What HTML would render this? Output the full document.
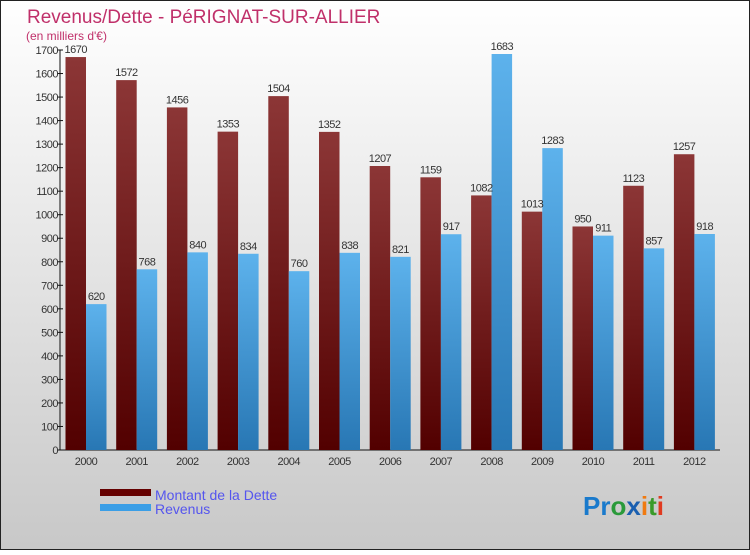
<!DOCTYPE html>
<html><head><meta charset="utf-8"><style>
body{margin:0;width:750px;height:550px;overflow:hidden;font-family:"Liberation Sans","DejaVu Sans",sans-serif}
</style></head><body>
<svg id="c" width="750" height="550" xmlns="http://www.w3.org/2000/svg">
<defs>
<linearGradient id="bg" x1="0" y1="0" x2="0" y2="1"><stop offset="0" stop-color="#ffffff"/><stop offset="1" stop-color="#c8c8c8"/></linearGradient>
<linearGradient id="gd" x1="0" y1="0" x2="0" y2="1"><stop offset="0" stop-color="#8c3636"/><stop offset="1" stop-color="#520000"/></linearGradient>
<linearGradient id="gr" x1="0" y1="0" x2="0" y2="1"><stop offset="0" stop-color="#5db2ec"/><stop offset="1" stop-color="#2877b4"/></linearGradient>
</defs>
<rect x="0.5" y="0.5" width="749" height="549" fill="url(#bg)" stroke="#222"/>
<text x="27" y="23" font-size="19" fill="#c0306a">Revenus/Dette - PéRIGNAT-SUR-ALLIER</text>
<text x="26" y="40" font-size="12" fill="#c0306a">(en milliers d'€)</text>
<g id="plot"></g>
<rect x="100" y="489" width="51" height="7" fill="#640000"/>
<text x="155" y="500" font-size="14" fill="#5555ee">Montant de la Dette</text>
<rect x="100" y="504" width="51" height="7" fill="#3a9ee6"/>
<text x="155" y="514" font-size="14" fill="#5555ee">Revenus</text>
<text x="583" y="515" font-size="26" font-weight="bold"><tspan fill="#1a7acc">Pr</tspan><tspan fill="#2a9a3a">o</tspan><tspan fill="#1a5fb0">x</tspan><tspan fill="#f07a10">i</tspan><tspan fill="#3a9a2a">t</tspan><tspan fill="#e03a20">i</tspan></text>
</svg>
<script>
const years=["2000","2001","2002","2003","2004","2005","2006","2007","2008","2009","2010","2011","2012"];
const dette=[1670,1572,1456,1353,1504,1352,1207,1159,1082,1013,950,1123,1257];
const revenus=[620,768,840,834,760,838,821,917,1683,1283,911,857,918];
const yTicks=[0,100,200,300,400,500,600,700,800,900,1000,1100,1200,1300,1400,1500,1600,1700];
const NS="http://www.w3.org/2000/svg";
const g=document.getElementById('plot');
const y0=450,yMax=1700,ph=400,x0=60,step=50.7,first=65.5,bw=20.5;
const yS=v=>y0-v/yMax*ph;
const xS=i=>first+i*step;
function mk(t,a,txt){const e=document.createElementNS(NS,t);for(const k in a)e.setAttribute(k,a[k]);if(txt!==undefined)e.textContent=txt;g.appendChild(e);return e;}
let e=mk('line',{x1:x0,y1:yS(yMax),x2:x0,y2:y0,stroke:'#111'});


e=mk('line',{x1:x0,y1:y0,x2:720,y2:y0,stroke:'#111'});


yTicks.forEach(v=>{
 let t=mk('line',{x1:x0-3,y1:yS(v),x2:x0+3,y2:yS(v),stroke:'#111'});
 
 
 let l=mk('text',{x:x0-2,y:yS(v)+4,'font-size':11,fill:'#333','text-anchor':'end','letter-spacing':'-0.5'},v);
 
 
});
years.forEach((yr,i)=>{
 const x=xS(i);
 let b=mk('rect',{x:x,y:yS(dette[i]),width:bw,height:y0-yS(dette[i]),fill:'url(#gd)'});
 
 
 let r=mk('rect',{x:x+bw,y:yS(revenus[i]),width:bw,height:y0-yS(revenus[i]),fill:'url(#gr)'});
 
 
 let t1=mk('text',{x:x+bw/2,y:yS(dette[i])-4,'font-size':11,fill:'#333','text-anchor':'middle','letter-spacing':'-0.5'},dette[i]);
 
 
 let t2=mk('text',{x:x+bw*1.5,y:yS(revenus[i])-4,'font-size':11,fill:'#333','text-anchor':'middle','letter-spacing':'-0.5'},revenus[i]);
 
 
 let xl=mk('text',{x:x+bw,y:465,'font-size':11,fill:'#333','text-anchor':'middle','letter-spacing':'-0.5'},yr);
 
 
});
</script>
</body></html>
